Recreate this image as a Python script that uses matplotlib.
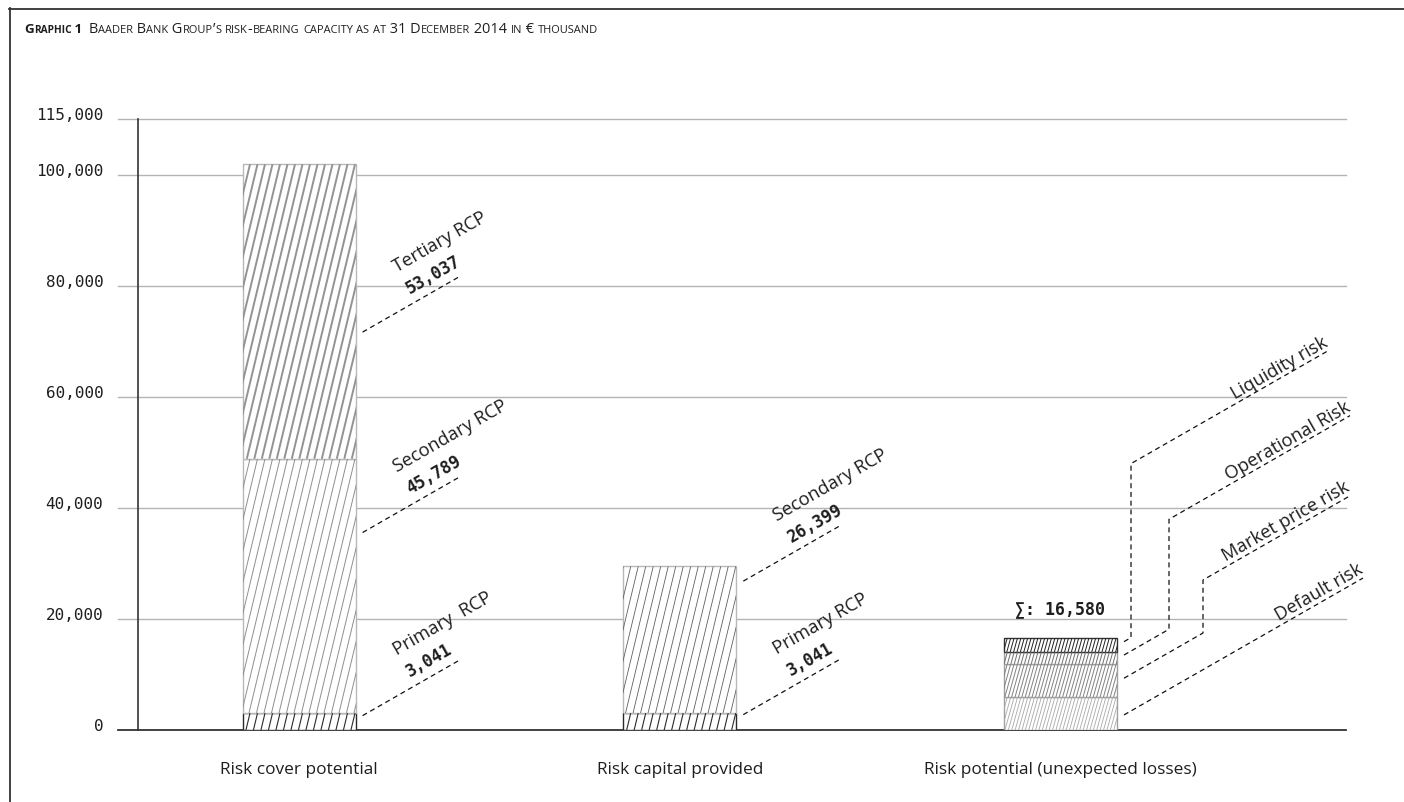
import matplotlib
matplotlib.use("Agg")
import matplotlib.pyplot as plt
from matplotlib import font_manager
from matplotlib.lines import Line2D
from matplotlib.collections import LineCollection
from matplotlib.transforms import IdentityTransform
from itertools import groupby
import numpy as np

# --- data (EUR thousand) ---
categories = ["Risk cover potential", "Risk capital provided", "Risk potential (unexpected losses)"]
rcp_names = ["Primary  RCP", "Secondary RCP", "Tertiary RCP"]
rcp_values = [3041, 45789, 53037]
provided_names = ["Primary RCP", "Secondary RCP"]
provided_values = [3041, 26399]
risk_names = ["Default risk", "Market price risk", "Operational Risk", "Liquidity risk"]
risk_values = [5900, 6000, 2100, 2580]
y_ticks = [0, 20000, 40000, 60000, 80000, 100000, 110000]
y_tick_labels = ["0", "20,000", "40,000", "60,000", "80,000", "100,000", "115,000"]
title_tag = "Graphic 1"
title_text = "Baader Bank Group\u2019s risk-bearing capacity as at 31 December 2014 in \u20ac thousand"

W, H = 1404, 803
installed = {f.name for f in font_manager.fontManager.ttflist}
if "Liberation Sans Narrow" in installed:
    SANS, SCALE = "Liberation Sans Narrow", 1.0
else:
    SANS, SCALE = "Open Sans", 0.8
MONO = ["DejaVu Sans Mono", "DejaVu Sans"]
INK = "#1e1e1e"

fig = plt.figure(figsize=(W / 100, H / 100), dpi=100)
ax = fig.add_axes([138 / W, (H - 731) / H, (1346 - 138) / W, (731 - 120) / H])
ax.set_xlim(-0.423, 2.75)
ax.set_ylim(0, 110000)
BAR_W = 0.297

# grid lines run a little past the axis on the left
for t in y_ticks:
    if t == 0:
        ax.axhline(t, xmin=-20 / 1208, xmax=1, color="#333333", lw=1.3, zorder=1, clip_on=False)
    else:
        ax.axhline(t, xmin=-20 / 1208, xmax=1, color="#b4b4b4", lw=1.0, zorder=1, clip_on=False)

for side in ["top", "right", "bottom"]:
    ax.spines[side].set_visible(False)
ax.spines["left"].set_color("#333333")
ax.spines["left"].set_linewidth(1.2)

ax.set_yticks(y_ticks)
ax.set_yticklabels(y_tick_labels, fontfamily=MONO, fontsize=11.5, color=INK)
for lab in ax.get_yticklabels():
    lab.set_va("baseline")
ax.tick_params(axis="y", length=0, pad=25)
ax.set_xticks([0, 1, 2])
ax.set_xticklabels(categories, fontfamily=SANS, fontsize=15.5 * SCALE, color=INK)
ax.tick_params(axis="x", length=0, pad=22)


def stacked(x, values, styles):
    bottoms = np.concatenate([[0], np.cumsum(values)[:-1]])
    edges = [s[0] for s in styles]
    bars = ax.bar([x] * len(values), values, bottom=bottoms, width=BAR_W,
                  color="white", edgecolor=edges, linewidth=1.0, zorder=3)
    return bars.patches, bottoms


def hatch(patch, color, lw, step, lean):
    bb = patch.get_window_extent()
    rise = bb.y1 - bb.y0
    xs = np.arange(bb.x0 - lean * rise, bb.x1 + step, step)
    segs = [[(x, bb.y0), (x + lean * rise, bb.y1)] for x in xs]
    lc = LineCollection(segs, colors=color, linewidths=lw,
                        transform=IdentityTransform(), zorder=3.5)
    ax.add_collection(lc, autolim=False)
    # clip after adding, otherwise the axes patch replaces it
    lc.set_clip_path(patch)


ANG = 29.8
U = np.array([np.cos(np.radians(ANG)), np.sin(np.radians(ANG))])
N = np.array([-np.sin(np.radians(ANG)), np.cos(np.radians(ANG))])
NAME_SIZE = 16.6 * SCALE


def leader(x, y, steps):
    p = ax.transData.transform((x, y)) + np.array([7.0, 0.0])
    pts = [p]
    for kind, length in steps:
        if kind == "d":
            p = p + np.array([length, length * np.tan(np.radians(ANG))])
        else:
            p = p + np.array([0.0, length])
        pts.append(p)
    pts = np.array(pts)
    fig.add_artist(Line2D(pts[:, 0] / W, pts[:, 1] / H, transform=fig.transFigure,
                          color="#111111", lw=0.9, ls=(0, (4, 3)), zorder=5))
    return p


def rot_text(p, s, ha, **kw):
    fig.text(p[0] / W, p[1] / H, s, rotation=ANG, rotation_mode="anchor",
             ha=ha, va="baseline", color=INK, zorder=6, **kw)


def name_value(end, name, value):
    rot_text(end - 52 * U + 36 * N, name, "left", fontfamily=SANS, fontsize=NAME_SIZE)
    rot_text(end - 51 * U + 10 * N, f"{value:,}", "left", fontfamily=MONO,
             fontsize=12, fontweight="bold")


# (edge, hatch colour, line width, spacing px, lean)
rcp_styles = [("#2a2a2a", "#2a2a2a", 0.8, 7.5, 0.24),
              ("#b8b8b8", "#8e8e8e", 0.7, 7.5, 0.24),
              ("#b8b8b8", "#939393", 1.4, 7.5, 0.24)]
provided_styles = [("#2a2a2a", "#2a2a2a", 0.8, 7.5, 0.24),
                   ("#b8b8b8", "#606060", 0.6, 7.5, 0.24)]
risk_styles = [("#a0a0a0", "#a8a8a8", 0.6, 3.4, 0.28),
               ("#a0a0a0", "#828282", 0.7, 3.4, 0.28),
               ("#a0a0a0", "#707070", 0.7, 3.4, 0.28),
               ("#333333", "#222222", 0.7, 3.4, 0.28)]

# where along each segment the leader line starts
rcp_anchor = [0.85, 0.71, 0.43]
provided_anchor = [0.91, 0.90]
risk_anchor = [0.46, 0.57, 0.76, 0.74]
risk_steps = [[("d", 239)],
              [("d", 79), ("v", 53), ("d", 147)],
              [("d", 45), ("v", 110), ("d", 181)],
              [("d", 7), ("v", 174), ("d", 197)]]

for x, names, values, styles, anchors in [(0, rcp_names, rcp_values, rcp_styles, rcp_anchor),
                                          (1, provided_names, provided_values, provided_styles, provided_anchor)]:
    patches, bottoms = stacked(x, values, styles)
    for patch, st in zip(patches, styles):
        hatch(patch, *st[1:])
    for name, v, b, f in zip(names, values, bottoms, anchors):
        end = leader(x + BAR_W / 2, b + f * v, [("d", 97)])
        name_value(end, name, v)

patches, bottoms = stacked(2, risk_values, risk_styles)
for patch, st in zip(patches, risk_styles):
    hatch(patch, *st[1:])
for name, v, b, f, steps in zip(risk_names, risk_values, bottoms, risk_anchor, risk_steps):
    end = leader(2 + BAR_W / 2, b + f * v, steps)
    rot_text(end + 4 * U + 5 * N, name, "right", fontfamily=SANS, fontsize=NAME_SIZE)

risk_total = sum(risk_values)
ax.annotate(f"\u2211: {risk_total:,}", xy=(2, risk_total), xytext=(0, 25),
            textcoords="offset pixels", ha="center", va="baseline",
            fontfamily=MONO, fontsize=12, fontweight="bold", color=INK)

# frame
fig.add_artist(Line2D([9 / W, 1], [1 - 9.5 / H] * 2, transform=fig.transFigure,
                      color="#333333", lw=1.3))
fig.add_artist(Line2D([9.5 / W] * 2, [0, 1 - 9 / H], transform=fig.transFigure,
                      color="#333333", lw=1.3))

# small-caps heading
renderer = fig.canvas.get_renderer()


def text_width(s, **kw):
    a = fig.text(0, 0, s + "|", **kw)
    b = fig.text(0, 0, "|", **kw)
    w = a.get_window_extent(renderer).width - b.get_window_extent(renderer).width
    a.remove()
    b.remove()
    return w


def small_caps(x, y, text, size, weight="normal"):
    for low, chars in groupby(text, key=str.islower):
        s = "".join(chars).upper()
        kw = dict(fontfamily=SANS, fontsize=size * 0.76 if low else size, fontweight=weight)
        fig.text(x / W, y / H, s, ha="left", va="baseline", color=INK, **kw)
        x += text_width(s, **kw)


small_caps(24, H - 33, title_tag, 12 * SCALE, "bold")
small_caps(89, H - 33, title_text, 13.1 * SCALE)

fig.savefig("out.png", dpi=100)
